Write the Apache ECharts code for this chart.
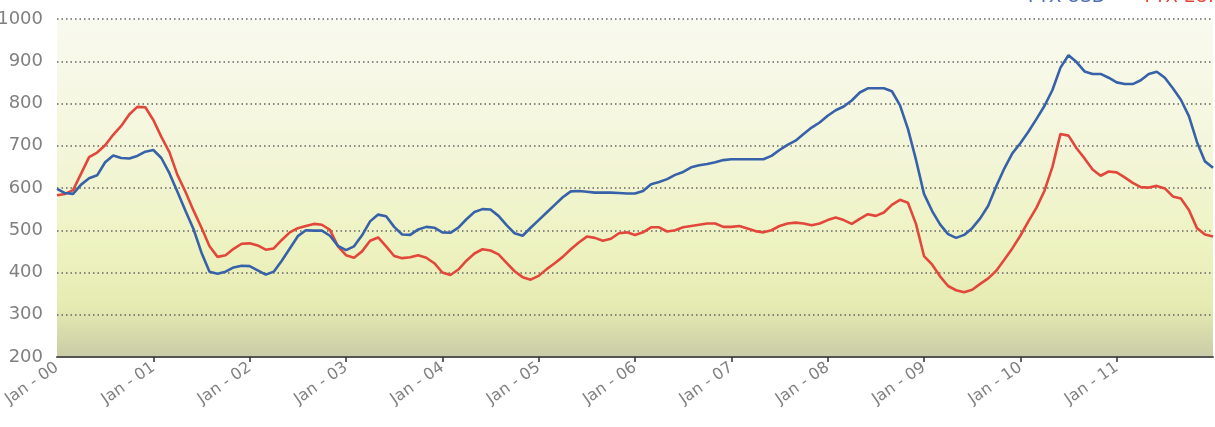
<!DOCTYPE html>
<html>
<head>
<meta charset="utf-8">
<script src="https://cdn.jsdelivr.net/npm/echarts@6/dist/echarts.min.js"></script>
<style>
html,body{margin:0;padding:0;background:#ffffff;}
#chart{width:1215px;height:427px;}
</style>
</head>
<body>
<div id="chart"></div>
<script>
// Monthly values, Jan 2000 .. Jan 2012
var usd = [
  598,588,586,608,623,630,661,677,671,670,676,686,
  690,671,635,591,546,503,447,402,397,402,412,416,
  415,405,395,402,428,457,486,500,499,499,487,463,
  453,462,488,521,537,533,508,490,489,502,508,506,
  495,494,506,526,543,550,549,534,512,493,487,506,
  524,542,560,578,592,593,591,589,589,589,588,587,
  587,593,609,614,621,631,638,649,654,657,661,666,
  668,668,668,668,668,676,690,702,712,728,743,755,
  771,784,793,807,826,836,836,836,829,796,740,667,
  586,546,514,491,482,489,505,528,558,604,646,682,
  706,733,763,794,832,885,914,898,876,870,870,861,
  850,846,846,855,870,875,861,836,809,770,709,663,
  648
];
var eur = [
  583,586,595,634,673,684,701,726,747,774,792,791,
  761,721,685,631,591,547,506,462,437,441,456,468,
  469,464,454,457,477,495,505,510,515,513,501,462,
  441,435,450,475,483,462,439,434,436,441,435,422,
  400,394,407,428,445,455,452,443,423,403,389,383,
  392,408,422,437,455,471,485,482,475,480,493,495,
  489,495,507,507,497,500,507,510,513,516,516,508,
  508,510,504,498,495,500,510,516,518,516,512,516,
  524,530,524,515,527,538,534,542,560,572,565,515,
  439,419,391,368,358,353,359,373,386,404,430,457,
  487,521,553,593,650,728,724,694,670,644,629,639,
  637,625,612,602,601,605,599,580,575,548,505,490,
  485
];
var monthNames = ['Jan','Feb','Mar','Apr','May','Jun','Jul','Aug','Sep','Oct','Nov','Dec'];
var years = ['00','01','02','03','04','05','06','07','08','09','10','11','12'];
var seriesNames = ['FTX USD','FTX EUR'];
var yTicks = {min:200, max:1000, step:100};

var categories = [];
for (var y = 0; y < years.length; y++) {
  for (var m = 0; m < 12; m++) {
    if (categories.length < usd.length) categories.push(monthNames[m] + ' - ' + years[y]);
  }
}

var chart = echarts.init(document.getElementById('chart'));
var option = {
  animation: false,
  backgroundColor: '#ffffff',
  legend: {
    top: -17,
    left: 996,
    width: 420,
    orient: 'horizontal',
    itemGap: 12,
    itemWidth: 22,
    itemHeight: 3,
    icon: 'rect',
    data: [
      {name: seriesNames[0], textStyle: {color: '#4a6db0'}},
      {name: seriesNames[1], textStyle: {color: '#e2473b'}}
    ],
    textStyle: {fontSize: 18, fontFamily: 'DejaVu Sans'}
  },
  grid: {
    left: 57, right: 2, top: 19, bottom: 70,
    outerBoundsMode: 'none',
    containLabel: false,
    show: true,
    borderWidth: 0,
    backgroundColor: new echarts.graphic.LinearGradient(0, 0, 0, 1, [
      {offset: 0, color: '#f9faef'},
      {offset: 0.35, color: '#f4f6dc'},
      {offset: 0.65, color: '#eef3c3'},
      {offset: 0.85, color: '#e6ebb2'},
      {offset: 1, color: '#c9cca6'}
    ])
  },
  xAxis: {
    type: 'category',
    data: categories,
    boundaryGap: false,
    axisLine: {show: true, lineStyle: {color: '#555', width: 2}},
    axisTick: {
      show: true,
      length: 5,
      interval: function (i) { return i % 12 === 0 && i > 0 && i < 144; },
      lineStyle: {color: '#333', width: 1.5}
    },
    axisLabel: {
      interval: function (i) { return i % 12 === 0 && i < 144; },
      rotate: 35,
      color: '#808080',
      fontSize: 16,
      fontFamily: 'DejaVu Sans',
      margin: 9
    },
    splitLine: {show: false}
  },
  yAxis: {
    type: 'value',
    min: yTicks.min,
    max: yTicks.max,
    interval: yTicks.step,
    axisLine: {show: false},
    axisTick: {show: false},
    axisLabel: {
      color: '#808080',
      fontSize: 18,
      fontFamily: 'DejaVu Sans',
      margin: 14,
      formatter: function (v) { return String(v); }
    },
    splitLine: {show: true, lineStyle: {color: '#666', width: 1.5, type: [1.5, 3]}}
  },
  series: [
    {
      name: seriesNames[1],
      type: 'line',
      data: eur,
      showSymbol: false,
      lineStyle: {color: '#e2473b', width: 2.6},
      itemStyle: {color: '#e2473b'}
    },
    {
      name: seriesNames[0],
      type: 'line',
      data: usd,
      showSymbol: false,
      lineStyle: {color: '#3761a8', width: 2.6},
      itemStyle: {color: '#3761a8'}
    }
  ]
};
chart.setOption(option);
</script>
</body>
</html>
